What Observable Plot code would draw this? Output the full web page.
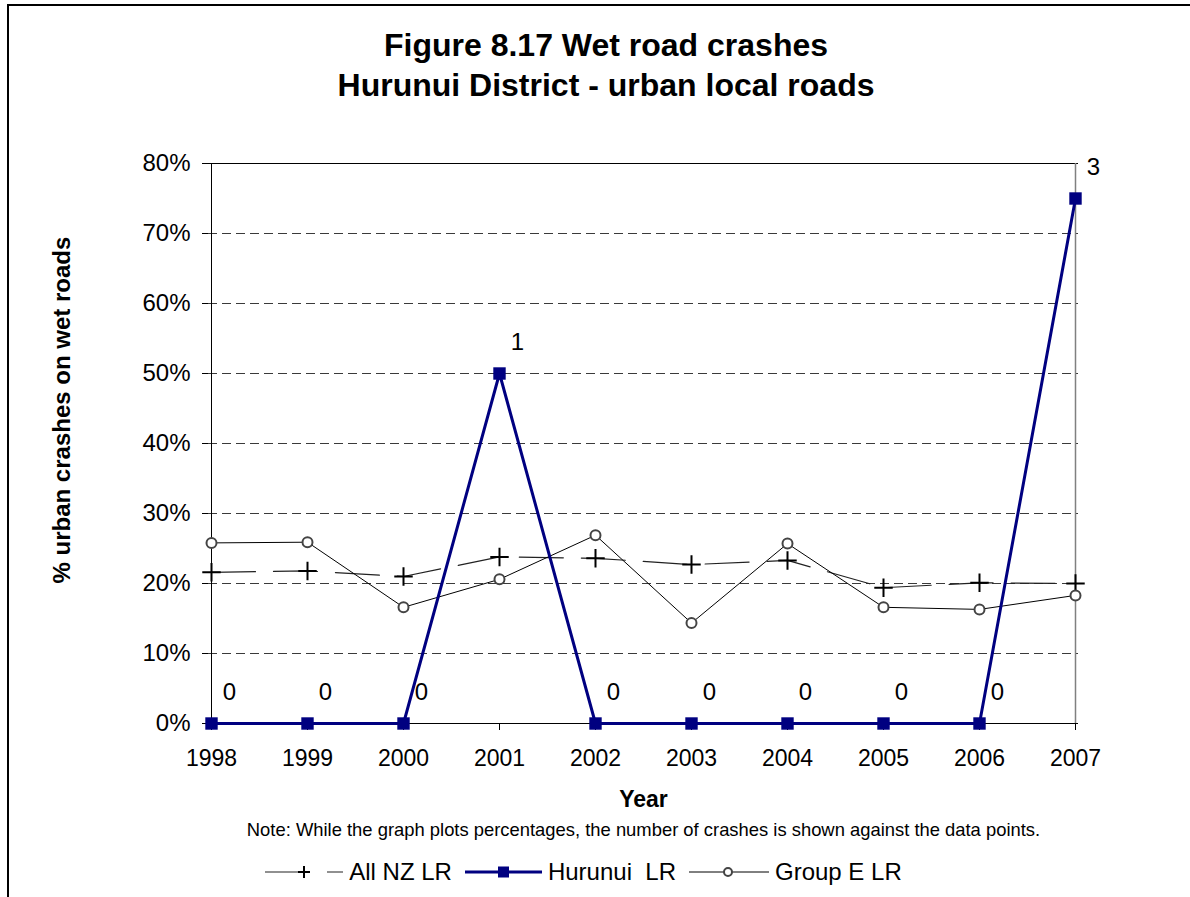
<!DOCTYPE html>
<html><head><meta charset="utf-8">
<script src="https://cdn.jsdelivr.net/npm/d3@7"></script>
<script src="https://cdn.jsdelivr.net/npm/@observablehq/plot@0.6"></script>
<style>
html,body{margin:0;padding:0;background:#fff;}
body{width:1190px;height:897px;overflow:hidden;position:relative;font-family:"Liberation Sans",Arial,sans-serif;color:#000;}
#bt{position:absolute;left:7px;top:4px;width:1183px;height:2px;background:#000;}
#bl{position:absolute;left:7px;top:4px;width:2px;height:893px;background:#000;}
#title{position:absolute;left:0;top:25px;width:1212px;text-align:center;font-weight:bold;font-size:32px;line-height:40px;}
#chart{position:absolute;left:0;top:110px;}
#note{position:absolute;left:0;top:818px;width:1287px;text-align:center;font-size:18.4px;line-height:24px;}
#legend{position:absolute;left:0;top:857px;width:1167px;height:30px;display:flex;justify-content:center;align-items:center;font-size:24px;white-space:pre;}
.item{display:flex;align-items:center;}
.item span{margin-left:6px;}
.item + .item{margin-left:13px;}
</style>
</head><body>
<div id="bt"></div><div id="bl"></div>
<div id="title"></div>
<div id="chart"></div>
<div id="note"></div>
<div id="legend"></div>
<script>
const years = [1998, 1999, 2000, 2001, 2002, 2003, 2004, 2005, 2006, 2007];
const allNZ = [0.216, 0.218, 0.210, 0.238, 0.236, 0.227, 0.233, 0.194, 0.201, 0.200];
const hurunui = [0, 0, 0, 0.50, 0, 0, 0, 0, 0, 0.75];
const hurunuiCounts = [0, 0, 0, 1, 0, 0, 0, 0, 0, 3];
const groupE = [0.258, 0.259, 0.166, 0.206, 0.269, 0.1435, 0.257, 0.166, 0.163, 0.183];
const yTicks = [0, 0.1, 0.2, 0.3, 0.4, 0.5, 0.6, 0.7, 0.8];
const seriesNames = ["All NZ LR", "Hurunui  LR", "Group E LR"];
const titleText = ["Figure 8.17 Wet road crashes", "Hurunui District - urban local roads"];
const xLabel = "Year";
const yLabel = "% urban crashes on wet roads";
const noteText = "Note: While the graph plots percentages, the number of crashes is shown against the data points.";

const nz = years.map((year, i) => ({year, value: allNZ[i]}));
const ge = years.map((year, i) => ({year, value: groupE[i]}));
const hu = years.map((year, i) => ({year, value: hurunui[i], count: hurunuiCounts[i]}));

const navy = "#000080";

const chart = Plot.plot({
  width: 1190, height: 705,
  marginLeft: 208, marginRight: 112, marginTop: 53, marginBottom: 92,
  style: {fontFamily: "Liberation Sans, Arial, sans-serif", fontSize: "24px", color: "#000", background: "transparent", overflow: "visible"},
  x: {type: "point", domain: years, padding: 0, label: null},
  y: {domain: [0, 0.8], label: null},
  marks: [
    Plot.ruleY(yTicks.filter(t => t > 0 && t < 0.8), {stroke: "#3a3a3a", strokeDasharray: "9,5", strokeWidth: 1}),
    Plot.ruleY([yTicks[yTicks.length - 1]], {stroke: "#000", strokeWidth: 1}),
    Plot.ruleX([years[years.length - 1]], {y1: 0, y2: 0.8, stroke: "#808080", strokeWidth: 1.5}),
    Plot.ruleX([years[0]], {y1: 0, y2: 0.8, stroke: "#000", strokeWidth: 1}),
    Plot.ruleY([0], {stroke: "#000", strokeWidth: 1}),
    Plot.axisY({ticks: yTicks, tickFormat: d => Math.round(d * 100) + "%", tickSize: 6, tickPadding: 12, fontSize: 24, label: null}),
    Plot.axisX({tickFormat: d => String(d), tickSize: 7, tickPadding: 19, fontSize: 23, label: null}),
    Plot.line(nz, {x: "year", y: "value", stroke: "#222", strokeWidth: 1.2, strokeDasharray: "44,18"}),
    Plot.dot(nz, {x: "year", y: "value", symbol: "plus", r: 6, stroke: "#000", strokeWidth: 2}),
    Plot.line(ge, {x: "year", y: "value", stroke: "#000", strokeWidth: 1}),
    Plot.dot(ge, {x: "year", y: "value", r: 5, stroke: "#444", strokeWidth: 2, fill: "#fff"}),
    Plot.line(hu, {x: "year", y: "value", stroke: navy, strokeWidth: 3}),
    Plot.dot(hu, {x: "year", y: "value", symbol: "square", r: 7, fill: navy, stroke: "none"}),
    Plot.text(hu, {x: "year", y: "value", text: d => String(d.count), dx: 18, dy: -31, fontSize: 24, fill: "#000"}),
    Plot.text([xLabel], {text: d => d, frameAnchor: "bottom", dy: 83, fontWeight: "bold", fontSize: 23, fill: "#000"}),
    Plot.text([yLabel], {text: d => d, frameAnchor: "left", dx: -146, dy: 140, rotate: -90, fontWeight: "bold", fontSize: 24, fill: "#000"})
  ]
});
document.getElementById("chart").appendChild(chart);
document.getElementById("title").innerHTML = titleText.join("<br>");
document.getElementById("note").textContent = noteText;

const swatches = [
  `<svg width="78" height="20"><line x1="0" y1="10" x2="78" y2="10" stroke="#222" stroke-width="1.2" stroke-dasharray="44,18"/><path d="M33,10H45M39,4V16" stroke="#000" stroke-width="2"/></svg>`,
  `<svg width="77" height="20"><line x1="0" y1="10" x2="77" y2="10" stroke="${navy}" stroke-width="3"/><rect x="33" y="4.5" width="11" height="11" fill="${navy}"/></svg>`,
  `<svg width="80" height="20"><line x1="0" y1="10" x2="80" y2="10" stroke="#000" stroke-width="1"/><circle cx="39" cy="10" r="4" fill="#fff" stroke="#444" stroke-width="2"/></svg>`
];
const legend = document.getElementById("legend");
seriesNames.forEach((name, i) => {
  const item = document.createElement("div");
  item.className = "item";
  item.innerHTML = swatches[i];
  const s = document.createElement("span");
  s.textContent = name;
  item.appendChild(s);
  legend.appendChild(item);
});
</script>
</body></html>
